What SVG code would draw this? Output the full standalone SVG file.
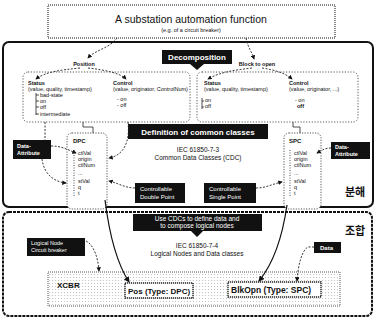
<svg xmlns="http://www.w3.org/2000/svg" width="376" height="322" viewBox="0 0 376 322">
<style>
text{font-family:"Liberation Sans",Arial,sans-serif;fill:#111}
.t{font-size:10.5px}
.s{font-size:5.5px}
.m{font-size:6.5px}
.b{font-weight:bold}
.w{fill:#fff}
.c{text-anchor:middle}
.blk{fill:#111}
.grp{fill:none;stroke:#444;stroke-width:0.9;stroke-dasharray:1.2 1.6}
.cdc{fill:#fff;stroke:#555;stroke-width:1;stroke-dasharray:1.2 1.4}
.dash{fill:none;stroke:#222;stroke-width:0.9;stroke-dasharray:2 1.5}
.solid{fill:none;stroke:#111;stroke-width:1.2}
.thin{fill:none;stroke:#222;stroke-width:0.8}
.dbox{fill:#fff;stroke:#222;stroke-width:1.4;stroke-dasharray:1.2 0.8}
.kr{font-family:"Noto Sans CJK KR",sans-serif;font-weight:bold;font-size:11px}
</style>
<defs>
<marker id="ah" viewBox="0 0 6 6" refX="5" refY="3" markerWidth="5" markerHeight="5" orient="auto"><path d="M0,0 L6,3 L0,6 z" fill="#111"/></marker>
<pattern id="dots" width="3" height="3" patternUnits="userSpaceOnUse"><rect width="3" height="3" fill="#fff"/><circle cx="1.5" cy="1.5" r="0.6" fill="#bbb"/></pattern>
</defs>
<rect width="376" height="322" fill="#fff"/>

<g id="section-decomposition">
<rect x="3" y="42" width="370" height="165" rx="6" fill="#fff" stroke="#111" stroke-width="2"/>
</g>
<g id="section-composition">
<rect x="3" y="212" width="369" height="104" rx="6" fill="#fff" stroke="#111" stroke-width="2" stroke-dasharray="3 1"/>
</g>

<g id="top-function">
<rect x="48" y="5" width="287" height="33" fill="#fff" stroke="#888" stroke-width="2" stroke-dasharray="1 1"/>
<text x="191" y="23" class="t c">A substation automation function</text>
<text x="191" y="32" class="s c">(e.g. of a circuit breaker)</text>
</g>

<g id="decomposition">
<path d="M162,50 H232 V64 H204 L197,70 L190,64 H162 Z" class="blk"/>
<text x="197" y="60" class="w b c" font-size="8">Decomposition</text>
</g>

<g id="position"><text x="84" y="66" class="s b c">Position</text></g>
<g id="block-to-open"><text x="257" y="66" class="s b c">Block to open</text></g>

<g id="position-group">
<rect x="23" y="72" width="167" height="50" rx="5" class="grp"/>
<text x="28" y="85" class="s b">Status</text>
<text x="28" y="91" class="s">(value, quality, timestamp)</text>
<path d="M36,93 V115 M36,95 h3 M36,101 h3 M36,107 h3 M36,114 h3" class="thin"/>
<text x="40" y="97" class="s">bad-state</text>
<text x="40" y="103" class="s">on</text>
<text x="40" y="109" class="s">off</text>
<text x="40" y="116" class="s">intermediate</text>
<text x="113" y="85" class="s b">Control</text>
<text x="113" y="91" class="s">(value, originator, ControlNum)</text>
<text x="117" y="101" class="s">- on</text>
<text x="117" y="107" class="s">- off</text>
</g>

<g id="block-group">
<rect x="197" y="72" width="161" height="50" rx="5" class="grp"/>
<text x="204" y="85" class="s b">Status</text>
<text x="204" y="91" class="s">(value, quality, timestamp)</text>
<path d="M202,98 V109 M202,101 h2 M202,107 h2" class="thin"/>
<text x="205" y="102" class="s">on</text>
<text x="205" y="108" class="s">off</text>
<text x="289" y="85" class="s b">Control</text>
<text x="289" y="91" class="s">(value, originator, ...)</text>
<text x="295" y="102" class="s">- on</text>
<text x="297" y="108" class="s b">off</text>
</g>

<g id="definition">
<rect x="128" y="124" width="140" height="15" class="blk"/>
<text x="198" y="134.5" class="w b c" font-size="8">Definition of common classes</text>
<text x="198" y="152" class="m c">IEC 61850-7-3</text>
<text x="198" y="160" class="m c">Common Data Classes (CDC)</text>
</g>

<g id="dpc">
<rect x="67" y="133" width="40" height="76" rx="5" class="cdc"/>
<text x="73" y="143" class="b" font-size="6">DPC</text>
<path d="M74,150 V197" class="thin" stroke-dasharray="1 1.5"/>
<text x="78" y="155" class="s">ctlVal</text>
<text x="78" y="161" class="s">origin</text>
<text x="78" y="167" class="s">ctlNum</text>
<text x="78" y="175" class="s">...</text>
<text x="78" y="183" class="s">stVal</text>
<text x="78" y="189" class="s">q</text>
<text x="78" y="195" class="s">t</text>
</g>

<g id="spc">
<rect x="284" y="133" width="37" height="76" rx="5" class="cdc"/>
<text x="289" y="143" class="b" font-size="6">SPC</text>
<path d="M290,150 V197" class="thin" stroke-dasharray="1 1.5"/>
<text x="294" y="155" class="s">ctlVal</text>
<text x="294" y="161" class="s">origin</text>
<text x="294" y="167" class="s">ctlNum</text>
<text x="294" y="175" class="s">...</text>
<text x="294" y="183" class="s">stVal</text>
<text x="294" y="189" class="s">q</text>
<text x="294" y="195" class="s">t</text>
</g>

<g id="data-attribute-left">
<rect x="13" y="140" width="38" height="19" class="blk"/>
<text x="17" y="148" class="s w b">Data-</text>
<text x="17" y="155" class="s w b">Attribute</text>
</g>
<g id="data-attribute-right">
<rect x="331" y="142" width="39" height="17" class="blk"/>
<text x="335" y="149" class="s w b">Data-</text>
<text x="335" y="156" class="s w b">Attribute</text>
</g>

<g id="controllable-double-point">
<rect x="135" y="183" width="50" height="20" class="blk"/>
<text x="140" y="191" class="w" font-size="6">Controllable</text>
<text x="140" y="198.5" class="w" font-size="6">Double Point</text>
</g>
<g id="controllable-single-point">
<rect x="204" y="183" width="52" height="20" class="blk"/>
<text x="209" y="191" class="w" font-size="6">Controllable</text>
<text x="209" y="198.5" class="w" font-size="6">Single Point</text>
</g>

<g id="label-decompose"><text x="345" y="196" class="kr">분해</text></g>
<g id="label-compose"><text x="345" y="235" class="kr">조합</text></g>

<g id="use-cdcs">
<path d="M133,214 H262 V231 H203 L197,237 L191,231 H133 Z" class="blk"/>
<text x="197" y="221" class="m w c">Use CDCs to define data and</text>
<text x="197" y="228" class="m w c">to compose logical nodes</text>
<text x="197" y="248" class="m c">IEC 61850-7-4</text>
<text x="197" y="256" class="m c">Logical Nodes and Data classes</text>
</g>

<g id="logical-node-label">
<rect x="27" y="238" width="58" height="18" class="blk"/>
<text x="31" y="245" class="s w">Logical Node</text>
<text x="31" y="252" class="s w">Circuit breaker</text>
</g>
<g id="data-label">
<rect x="314" y="242" width="27" height="11" class="blk"/>
<text x="320" y="250" class="w b" font-size="6">Data</text>
</g>

<g id="xcbr">
<rect x="48" y="272" width="292" height="34" fill="url(#dots)" stroke="#555" stroke-width="1" stroke-dasharray="1 1"/>
<text x="57" y="288" class="b" font-size="8">XCBR</text>
</g>
<g id="pos">
<rect x="125" y="283" width="68" height="15" class="dbox"/>
<text x="128" y="293.5" class="b" font-size="8">Pos (Type: DPC)</text>
</g>
<g id="blkopn">
<rect x="228" y="282" width="93" height="15" class="dbox"/>
<text x="231" y="292.5" class="b" font-size="8.5">BlkOpn (Type: SPC)</text>
</g>

<g id="connectors">
<path d="M117,38 C110,48 95,50 88,58" class="dash" marker-end="url(#ah)"/>
<path d="M246,38 C248,48 252,52 254,59" class="dash" marker-end="url(#ah)"/>
<path d="M80,68 C60,70 45,72 36,79" class="dash" marker-end="url(#ah)"/>
<path d="M88,68 C105,70 120,73 126,79" class="dash" marker-end="url(#ah)"/>
<path d="M252,68 C235,70 220,72 208,79" class="dash" marker-end="url(#ah)"/>
<path d="M262,68 C275,70 285,73 292,79" class="dash" marker-end="url(#ah)"/>
<path d="M83,122 V127 H93 V133" class="thin"/>
<path d="M293,122 V127 H300 V133" class="thin"/>
<path d="M45,122 V140" class="dash"/>
<path d="M51,146 C62,146 68,150 76,153" class="dash" marker-end="url(#ah)"/>
<path d="M42,159 C44,175 55,182 66,183" class="dash" marker-end="url(#ah)"/>
<path d="M128,122 C130,140 125,155 109,158" class="dash" marker-end="url(#ah)"/>
<path d="M135,188 C125,188 118,183 109,181" class="dash" marker-end="url(#ah)"/>
<path d="M256,188 C266,188 272,184 282,182" class="dash" marker-end="url(#ah)"/>
<path d="M331,148 C325,148 322,150 317,153" class="dash" marker-end="url(#ah)"/>
<path d="M86,241 C94,245 98,258 99,271" class="dash" marker-end="url(#ah)"/>
<path d="M105,200 C110,240 118,265 129,282" class="solid" marker-end="url(#ah)"/>
<path d="M287,205 C282,240 272,265 259,281" class="solid" marker-end="url(#ah)"/>
<path d="M314,247 H308 C302,250 298,265 297,281" class="dash" marker-end="url(#ah)"/>
</g>
</svg>
